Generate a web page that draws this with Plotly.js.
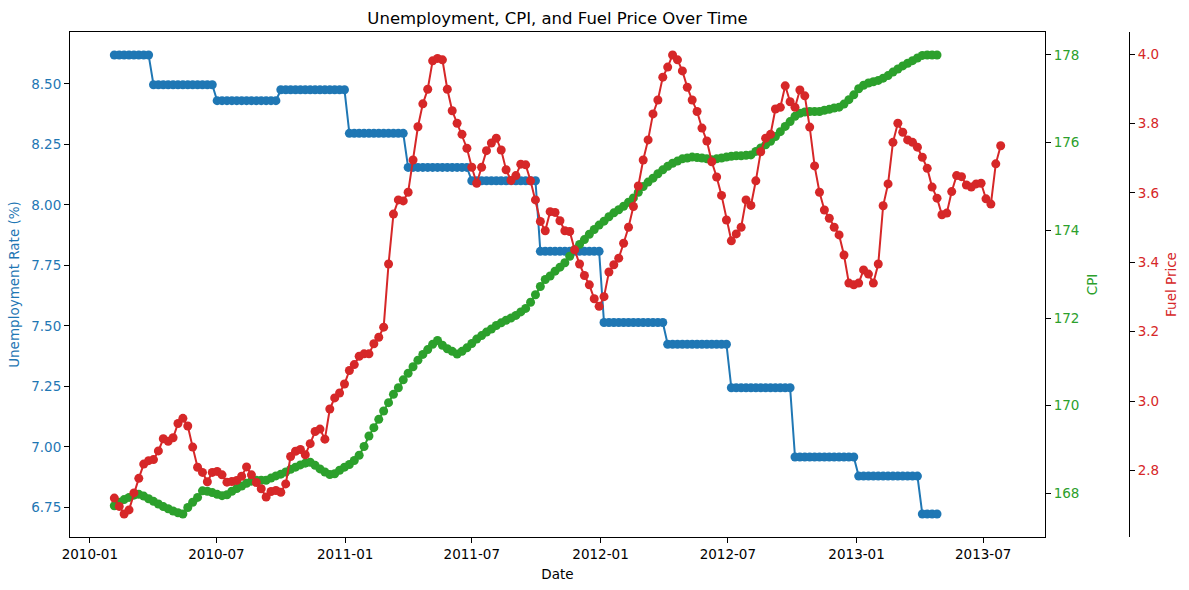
<!DOCTYPE html>
<html>
<head>
<meta charset="utf-8">
<script src="https://cdn.plot.ly/plotly-3.0.1.min.js"></script>
<style>
html,body{margin:0;padding:0;background:#ffffff;}
#chart{width:1189px;height:590px;}
</style>
</head>
<body>
<div id="chart"></div>
<script>
// ---- Data (weekly, Fridays, starting 2010-02-05) ----
const START_DATE = '2010-02-05';

const UNEMPLOYMENT = [
  8.620,8.620,8.620,8.620,8.620,8.620,8.620,8.620,
  8.497,8.497,8.497,8.497,8.497,8.497,8.497,8.497,8.497,8.497,8.497,8.497,8.497,
  8.431,8.431,8.431,8.431,8.431,8.431,8.431,8.431,8.431,8.431,8.431,8.431,8.431,
  8.476,8.476,8.476,8.476,8.476,8.476,8.476,8.476,8.476,8.476,8.476,8.476,8.476,8.476,
  8.296,8.296,8.296,8.296,8.296,8.296,8.296,8.296,8.296,8.296,8.296,8.296,
  8.155,8.155,8.155,8.155,8.155,8.155,8.155,8.155,8.155,8.155,8.155,8.155,8.155,
  8.100,8.100,8.100,8.100,8.100,8.100,8.100,8.100,8.100,8.100,8.100,8.100,8.100,8.100,
  7.808,7.808,7.808,7.808,7.808,7.808,7.808,7.808,7.808,7.808,7.808,7.808,7.808,
  7.514,7.514,7.514,7.514,7.514,7.514,7.514,7.514,7.514,7.514,7.514,7.514,7.514,
  7.424,7.424,7.424,7.424,7.424,7.424,7.424,7.424,7.424,7.424,7.424,7.424,7.424,
  7.244,7.244,7.244,7.244,7.244,7.244,7.244,7.244,7.244,7.244,7.244,7.244,7.244,
  6.958,6.958,6.958,6.958,6.958,6.958,6.958,6.958,6.958,6.958,6.958,6.958,6.958,
  6.879,6.879,6.879,6.879,6.879,6.879,6.879,6.879,6.879,6.879,6.879,6.879,6.879,
  6.722,6.722,6.722,6.722
];

const CPI = [
  167.72,167.80,167.86,167.91,167.96,167.98,167.94,167.88,167.82,167.76,
  167.70,167.65,167.60,167.56,167.53,167.68,167.80,167.91,168.06,168.05,
  168.02,167.98,167.95,167.97,168.05,168.11,168.17,168.23,168.28,168.30,
  168.30,168.30,168.35,168.40,168.44,168.49,168.55,168.60,168.65,168.69,
  168.71,168.64,168.56,168.49,168.43,168.45,168.53,168.60,168.66,168.75,
  168.87,169.07,169.31,169.50,169.69,169.88,170.07,170.26,170.41,170.59,
  170.74,170.89,171.04,171.17,171.28,171.40,171.49,171.38,171.30,171.24,
  171.18,171.24,171.32,171.42,171.52,171.60,171.68,171.75,171.83,171.89,
  171.95,172.00,172.06,172.14,172.22,172.36,172.53,172.72,172.88,172.96,
  173.07,173.16,173.26,173.41,173.56,173.68,173.79,173.91,174.02,174.12,
  174.21,174.31,174.40,174.47,174.55,174.64,174.74,174.87,175.00,175.10,
  175.19,175.29,175.38,175.46,175.53,175.58,175.63,175.65,175.67,175.66,
  175.65,175.63,175.61,175.63,175.65,175.67,175.69,175.70,175.70,175.71,
  175.72,175.80,175.88,175.95,176.03,176.14,176.25,176.37,176.48,176.60,
  176.67,176.70,176.71,176.71,176.71,176.74,176.76,176.79,176.81,176.88,
  176.98,177.09,177.23,177.31,177.36,177.39,177.42,177.47,177.53,177.61,
  177.68,177.75,177.81,177.87,177.93,177.99,178.00,178.00,178.00
];

const FUEL_PRICE = [
  2.720,2.696,2.674,2.686,2.735,2.777,2.818,2.828,2.831,2.856,
  2.891,2.884,2.894,2.935,2.950,2.928,2.867,2.809,2.794,2.767,
  2.794,2.797,2.787,2.766,2.768,2.771,2.783,2.810,2.787,2.765,
  2.747,2.723,2.739,2.742,2.737,2.761,2.840,2.855,2.860,2.845,
  2.877,2.912,2.919,2.890,2.977,3.009,3.023,3.049,3.088,3.105,
  3.129,3.136,3.136,3.165,3.184,3.213,3.395,3.539,3.580,3.577,
  3.602,3.695,3.791,3.857,3.899,3.981,3.988,3.984,3.899,3.837,
  3.801,3.769,3.729,3.674,3.628,3.674,3.722,3.744,3.758,3.724,
  3.667,3.636,3.650,3.683,3.681,3.635,3.580,3.518,3.491,3.546,
  3.544,3.520,3.491,3.489,3.436,3.395,3.362,3.335,3.295,3.273,
  3.301,3.372,3.393,3.412,3.455,3.501,3.561,3.620,3.695,3.753,
  3.828,3.868,3.934,3.963,3.998,3.984,3.952,3.905,3.868,3.835,
  3.787,3.750,3.690,3.646,3.593,3.522,3.462,3.482,3.501,3.580,
  3.564,3.635,3.719,3.758,3.769,3.842,3.847,3.909,3.863,3.847,
  3.897,3.880,3.790,3.678,3.602,3.551,3.527,3.501,3.479,3.421,
  3.340,3.335,3.340,3.378,3.366,3.340,3.395,3.563,3.626,3.746,
  3.801,3.775,3.753,3.746,3.732,3.703,3.671,3.617,3.585,3.537,
  3.542,3.604,3.650,3.647,3.623,3.617,3.626,3.628,3.583,3.568,
  3.684,3.736
];

// ---- Helpers ----
const DAY = 86400000;
function weeklyDates(n) {
  const [y, m, d] = START_DATE.split('-').map(Number);
  const t0 = Date.UTC(y, m - 1, d);
  const out = [];
  for (let i = 0; i < n; i++) out.push(new Date(t0 + i * 7 * DAY).toISOString().slice(0, 10));
  return out;
}
function toPlotlyDate(ms) {
  return new Date(ms).toISOString().replace('T', ' ').slice(0, 19);
}
function padRange(arr) {
  const lo = Math.min(...arr), hi = Math.max(...arr), s = hi - lo;
  return [lo - 0.05 * s, hi + 0.05 * s];
}

const datesFuel = weeklyDates(FUEL_PRICE.length);
const datesUnemp = weeklyDates(UNEMPLOYMENT.length);
const datesCpi = weeklyDates(CPI.length);

const t0 = Date.parse(datesFuel[0] + 'T00:00:00Z');
const t1 = Date.parse(datesFuel[datesFuel.length - 1] + 'T00:00:00Z');
const xPad = 0.05 * (t1 - t0);
const xRange = [toPlotlyDate(t0 - xPad), toPlotlyDate(t1 + xPad)];

const BLUE = '#1f77b4', GREEN = '#2ca02c', RED = '#d62728';
const FONT = 'DejaVu Sans, Verdana, sans-serif';

const traces = [
  {x: datesUnemp, y: UNEMPLOYMENT, type: 'scatter', mode: 'lines+markers', name: 'Unemployment',
   line: {color: BLUE, width: 2}, marker: {color: BLUE, size: 9}, xaxis: 'x', yaxis: 'y'},
  {x: datesCpi, y: CPI, type: 'scatter', mode: 'lines+markers', name: 'CPI',
   line: {color: GREEN, width: 2}, marker: {color: GREEN, size: 9}, xaxis: 'x', yaxis: 'y2'},
  {x: datesFuel, y: FUEL_PRICE, type: 'scatter', mode: 'lines+markers', name: 'Fuel Price',
   line: {color: RED, width: 2}, marker: {color: RED, size: 9}, xaxis: 'x', yaxis: 'y3'}
];

const W = 1189, H = 590;
const M = {l: 70, r: 55, t: 32, b: 53};
const paperW = W - M.l - M.r;
const plotRight = 1045 - M.l;

const axisCommon = {
  showgrid: false, zeroline: false, showline: true, linecolor: '#000', linewidth: 1,
  ticks: 'outside', ticklen: 5, tickwidth: 1, tickcolor: '#000', automargin: false
};

const layout = {
  width: W, height: H,
  margin: M,
  paper_bgcolor: '#fff', plot_bgcolor: '#fff',
  showlegend: false,
  font: {family: FONT, size: 14, color: '#000'},
  title: {text: 'Unemployment, CPI, and Fuel Price Over Time', font: {family: FONT, size: 16.5, color: '#000'},
          x: (M.l + plotRight / 2) / W, xanchor: 'center', xref: 'container', y: 1 - 18 / H, yanchor: 'middle', yref: 'container'},
  xaxis: Object.assign({}, axisCommon, {
    domain: [0, plotRight / paperW], range: xRange, type: 'date', mirror: true,
    tick0: '2010-01-01', dtick: 'M6', tickformat: '%Y-%m',
    tickfont: {family: FONT, size: 13.5, color: '#000'},
    title: {text: 'Date', font: {family: FONT, size: 13.5, color: '#000'}, standoff: 8}
  }),
  yaxis: Object.assign({}, axisCommon, {
    range: padRange(UNEMPLOYMENT), mirror: true, dtick: 0.25, tick0: 6.75, tickformat: '.2f',
    tickfont: {family: FONT, size: 13.5, color: BLUE},
    title: {text: 'Unemployment Rate (%)', font: {family: FONT, size: 13.5, color: BLUE}, standoff: 8}
  }),
  yaxis2: Object.assign({}, axisCommon, {
    range: padRange(CPI), overlaying: 'y', side: 'right', anchor: 'x', dtick: 2, tick0: 168,
    tickfont: {family: FONT, size: 13.5, color: GREEN},
    title: {text: 'CPI', font: {family: FONT, size: 13.5, color: GREEN}, standoff: 9}
  }),
  yaxis3: Object.assign({}, axisCommon, {
    range: padRange(FUEL_PRICE), overlaying: 'y', side: 'right', anchor: 'free',
    position: (1129 - M.l) / paperW, dtick: 0.2, tick0: 2.8, tickformat: '.1f',
    tickfont: {family: FONT, size: 13.5, color: RED},
    title: {text: 'Fuel Price', font: {family: FONT, size: 13.5, color: RED}, standoff: 8}
  })
};

Plotly.newPlot('chart', traces, layout, {displayModeBar: false, staticPlot: true});
</script>
</body>
</html>
